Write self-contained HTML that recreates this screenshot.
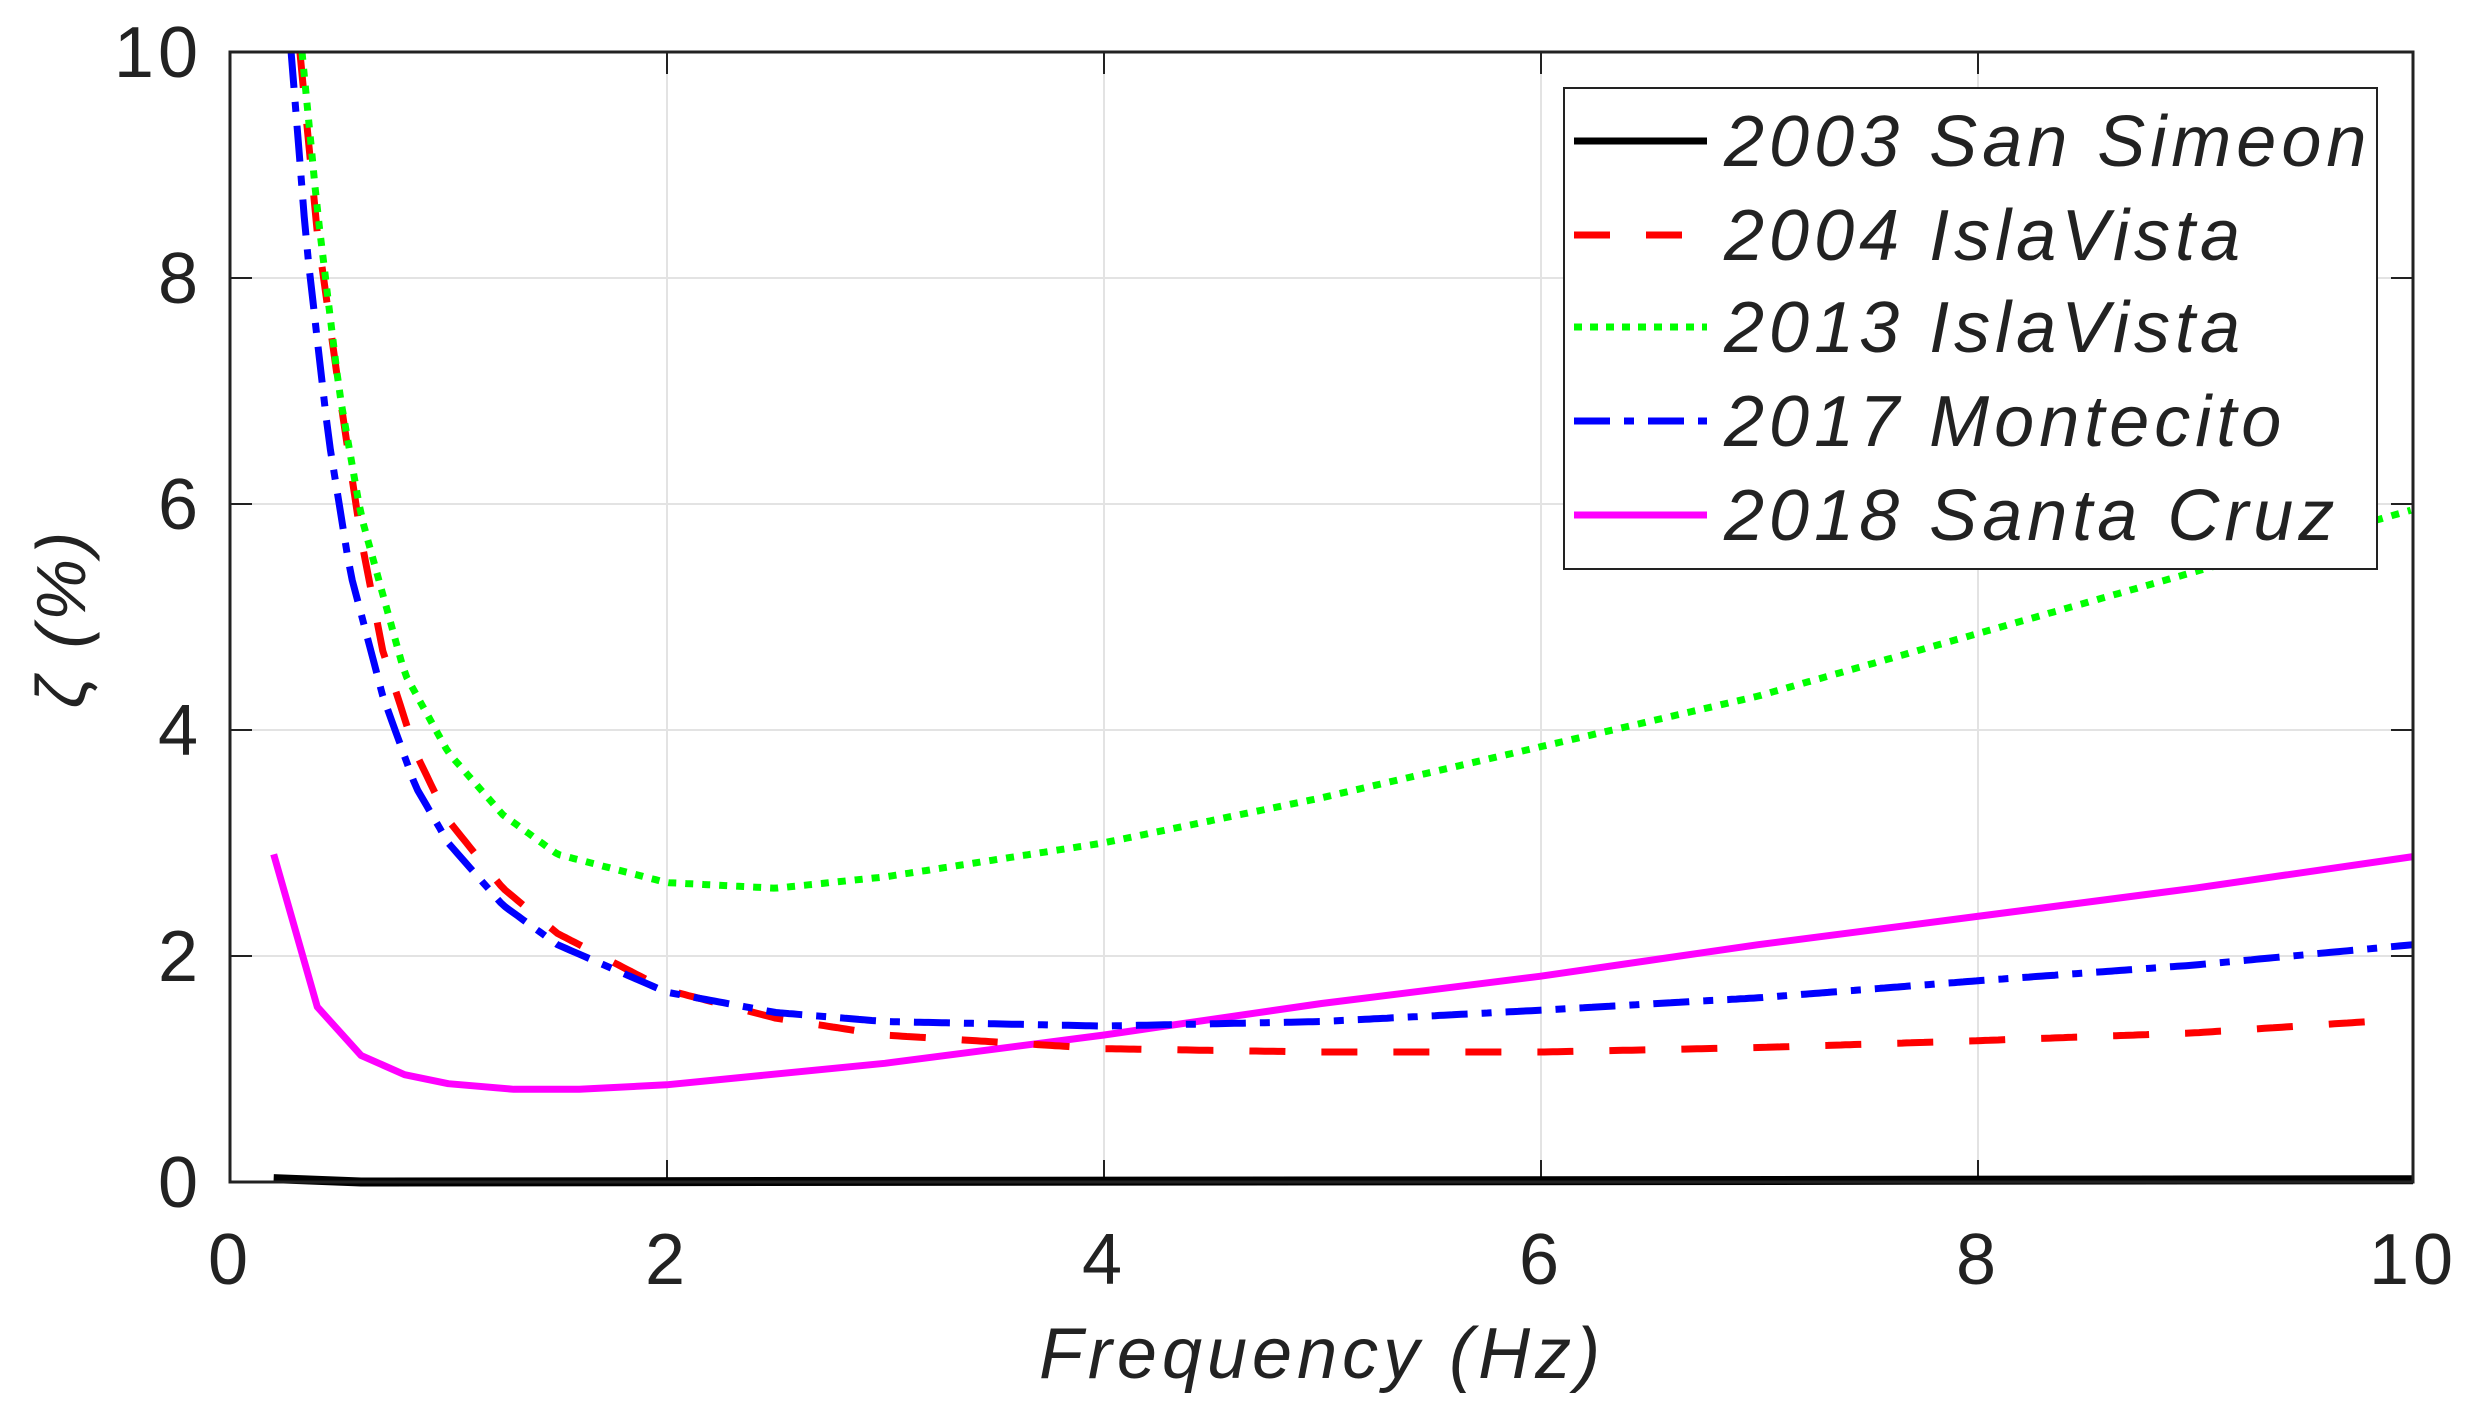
<!DOCTYPE html>
<html><head><meta charset="utf-8"><style>
body{margin:0;background:#fff;}
svg{display:block;}
text{font-family:"Liberation Sans",Arial,sans-serif;fill:#222;}
</style></head><body>
<svg width="2474" height="1418" xmlns="http://www.w3.org/2000/svg">
<rect width="2474" height="1418" fill="#fff"/>
<g stroke="#e3e3e3" stroke-width="2">
<line x1="667" y1="52" x2="667" y2="1182"/><line x1="1104" y1="52" x2="1104" y2="1182"/><line x1="1541" y1="52" x2="1541" y2="1182"/><line x1="1978" y1="52" x2="1978" y2="1182"/>
<line x1="230" y1="956" x2="2413" y2="956"/><line x1="230" y1="730" x2="2413" y2="730"/><line x1="230" y1="504" x2="2413" y2="504"/><line x1="230" y1="278" x2="2413" y2="278"/>
</g>
<g stroke="#222" stroke-width="2">
<path d="M667 1182v-22M1104 1182v-22M1541 1182v-22M1978 1182v-22M667 52v22M1104 52v22M1541 52v22M1978 52v22"/>
<path d="M230 956h22M230 730h22M230 504h22M230 278h22M2413 956h-22M2413 730h-22M2413 504h-22M2413 278h-22"/>
</g>
<g id="curves" fill="none" stroke-width="7" stroke-linejoin="round"></g>
<rect x="230" y="52" width="2183" height="1130" fill="none" stroke="#222" stroke-width="3"/>
<g font-size="72" text-anchor="end" letter-spacing="4">
<text x="202" y="1207">0</text><text x="202" y="981">2</text><text x="202" y="755">4</text><text x="202" y="529">6</text><text x="202" y="303">8</text><text x="202" y="77">10</text>
</g>
<g font-size="72" text-anchor="middle" letter-spacing="4">
<text x="230" y="1284">0</text><text x="667" y="1284">2</text><text x="1104" y="1284">4</text><text x="1541" y="1284">6</text><text x="1978" y="1284">8</text><text x="2413" y="1284">10</text>
</g>
<text x="1322" y="1378" font-size="72" font-style="italic" text-anchor="middle" letter-spacing="5">Frequency (Hz)</text>
<text transform="translate(85,618) rotate(-90)" font-size="70" font-style="italic" text-anchor="middle" letter-spacing="4">ζ (%)</text>
<rect x="1564" y="88" width="813" height="481" fill="#fff" stroke="#222" stroke-width="2"/>
<g stroke-width="7" fill="none">
<line x1="1574" y1="141" x2="1707" y2="141" stroke="#000"/>
<line x1="1574" y1="235" x2="1707" y2="235" stroke="#f00" stroke-dasharray="36 36"/>
<line x1="1574" y1="327" x2="1707" y2="327" stroke="#0f0" stroke-dasharray="8 8"/>
<line x1="1574" y1="421" x2="1707" y2="421" stroke="#00f" stroke-dasharray="36 14 10 14"/>
<line x1="1574" y1="515" x2="1707" y2="515" stroke="#f0f"/>
</g>
<g font-size="72" font-style="italic" fill="#111" letter-spacing="5">
<text x="1724" y="166">2003 San Simeon</text>
<text x="1724" y="260">2004 IslaVista</text>
<text x="1724" y="352">2013 IslaVista</text>
<text x="1724" y="446">2017 Montecito</text>
<text x="1724" y="540">2018 Santa Cruz</text>
</g>
</svg>
<script>
function X(f){return 230+f*218.3}function Y(v){return 1182-v*113}
function interp(pts,f){for(let i=0;i<pts.length-1;i++){if(f<=pts[i+1][0]){const a=pts[i],b=pts[i+1];const t=(f-a[0])/(b[0]-a[0]);return a[1]+t*(b[1]-a[1]);}}return pts[pts.length-1][1];}
function path(pts,step,lin){let d='';const s=pts[0][0],e=pts[pts.length-1][0];
if(lin){pts.forEach((p,i)=>{d+=(i?'L':'M')+X(p[0]).toFixed(1)+' '+Y(p[1]).toFixed(1)});return d;}
for(let f=s;f<=e+1e-9;f+=step){let v=interp(pts,f);v=Math.min(v,10.05);d+=(d?'L':'M')+X(f).toFixed(1)+' '+Y(v).toFixed(1);}return d;}
const g=document.getElementById('curves');
function add(d,c,da,w){const p=document.createElementNS('http://www.w3.org/2000/svg','path');p.setAttribute('d',d);p.setAttribute('stroke',c);if(da)p.setAttribute('stroke-dasharray',da);if(w)p.setAttribute('stroke-width',w);g.appendChild(p);}
const green=[[0.33,10],[0.4,8.6],[0.5,7],[0.6,5.9],[0.8,4.5],[1,3.8],[1.25,3.25],[1.5,2.9],[2,2.65],[2.5,2.6],[3,2.7],[4,3],[5,3.4],[6,3.85],[7,4.3],[8,4.85],[9,5.4],[10,5.95]];
const red=[[0.32,10],[0.4,8.4],[0.5,7],[0.6,5.7],[0.7,4.7],[0.85,3.8],[1,3.2],[1.25,2.6],[1.5,2.2],[2,1.7],[2.5,1.45],[3,1.3],[4,1.18],[5,1.15],[6,1.15],[7,1.19],[8,1.25],[9,1.32],[9.8,1.42]];
const blue=[[0.28,10],[0.35,8.3],[0.45,6.6],[0.55,5.4],[0.7,4.3],[0.85,3.5],[1,3],[1.25,2.45],[1.5,2.1],[2,1.68],[2.5,1.5],[3,1.42],[4,1.38],[5,1.42],[6,1.52],[7,1.63],[8,1.78],[9,1.92],[10,2.1]];
const mag=[[0.2,2.9],[0.4,1.55],[0.6,1.12],[0.8,0.95],[1,0.87],[1.3,0.82],[1.6,0.82],[2,0.86],[3,1.05],[4,1.3],[5,1.58],[6,1.82],[7,2.1],[8,2.35],[9,2.6],[10,2.88]];
add('M'+X(0.2)+' '+Y(0.03)+'L'+X(0.6)+' '+Y(0.0)+'L'+X(10)+' '+Y(0.02),'#000',null,9);
add(path(mag,0,true),'#f0f');
add(path(red,0.02),'#f00','36 36');
add(path(blue,0.02),'#00f','36 14 10 14');
add(path(green,0.02),'#0f0','8 9');
</script>
</body></html>
